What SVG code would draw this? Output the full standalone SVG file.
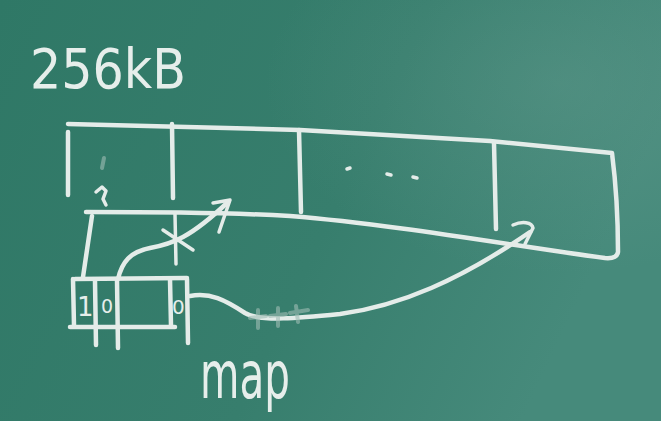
<svg xmlns="http://www.w3.org/2000/svg" width="661" height="421" viewBox="0 0 661 421">
<defs>
<linearGradient id="bg" x1="0" y1="0" x2="1" y2="0.3">
<stop offset="0" stop-color="#2f7866"/>
<stop offset="0.6" stop-color="#377e6d"/>
<stop offset="1" stop-color="#468a7b"/>
</linearGradient>
<radialGradient id="glow" cx="0.85" cy="0.2" r="0.45">
<stop offset="0" stop-color="#6a9e92" stop-opacity="0.35"/>
<stop offset="1" stop-color="#6a9e92" stop-opacity="0"/>
</radialGradient>
<style>
.chalk{fill:none;stroke:#e4ece9;stroke-width:4.5;stroke-linecap:round;stroke-linejoin:round}
.thin{stroke-width:3.5}
.faint{fill:none;stroke:#9fbcb4;stroke-width:4;stroke-linecap:round;opacity:0.6}
.txt{fill:#e6eeeb;font-family:"DejaVu Sans","Liberation Sans",sans-serif}
</style>
</defs>
<rect width="661" height="421" fill="url(#bg)"/>
<rect width="661" height="421" fill="url(#glow)"/>

<g id="title">
<text class="txt" x="30" y="88" font-size="56" font-weight="400" textLength="156" lengthAdjust="spacingAndGlyphs">256kB</text>
</g>

<g id="memory">
<path class="chalk" d="M68,124 L300,130 L490,141 L612,153 Q618,200 618,252 Q617,259 605,258 C520,247 400,225 290,216 C220,212 150,212 86,212"/>
<path class="chalk" d="M68,132 L68,195"/>
<path class="chalk" d="M172,124 L173,198"/>
<path class="chalk" d="M299,130 L301,212"/>
<path class="chalk" d="M494,143 L496,229"/>
<path class="chalk thin" d="M347,169 l3,-1 M387,174 l4,1 M413,177 l4,1"/>
<path class="chalk thin" d="M96,192 l6,-5 l4,4 l-3,8 l3,6"/>
<path class="faint" d="M104,158 l-2,10"/>
</g>

<g id="map-table">
<path class="chalk" d="M75,279 L187,278"/>
<path class="chalk" d="M70,327 L175,327"/>
<path class="chalk" d="M73,279 L74,326"/>
<path class="chalk" d="M95,281 L96,345"/>
<path class="chalk" d="M117,280 L118,348"/>
<path class="chalk" d="M170,279 L171,326"/>
<path class="chalk" d="M187,279 L188,343"/>
<text class="txt" x="77" y="316" font-size="26" font-weight="400">1</text>
<text class="txt" x="101" y="313" font-size="19" font-weight="400">0</text>
<text class="txt" x="172" y="314" font-size="20" font-weight="400">0</text>
</g>

<g id="label-map">
<text class="txt" x="200" y="398" font-size="66" font-weight="400" textLength="90" lengthAdjust="spacingAndGlyphs">map</text>
</g>

<g id="connectors">
<path class="chalk" d="M83,277 L92,216"/>
<path class="chalk" d="M118,279 C122,262 130,252 150,248 C172,244 190,238 228,202"/>
<path class="chalk thin" d="M213,203 L230,200 L219,232"/>
<path class="chalk thin" d="M163,230 L193,250"/>
<path class="chalk thin" d="M175,214 L176,264"/>
<path class="chalk" d="M190,296 C210,292 225,300 245,313 C260,322 300,318 340,314 C400,306 460,280 530,232"/>
<path class="chalk thin" d="M513,225 C522,221 532,222 533,228 L525,244"/>
<path class="faint" d="M258,310 l0,18 M250,318 l16,-2 M278,308 l0,18 M270,316 l16,-2 M296,306 l2,16 M290,313 l18,-3"/>
</g>
</svg>
